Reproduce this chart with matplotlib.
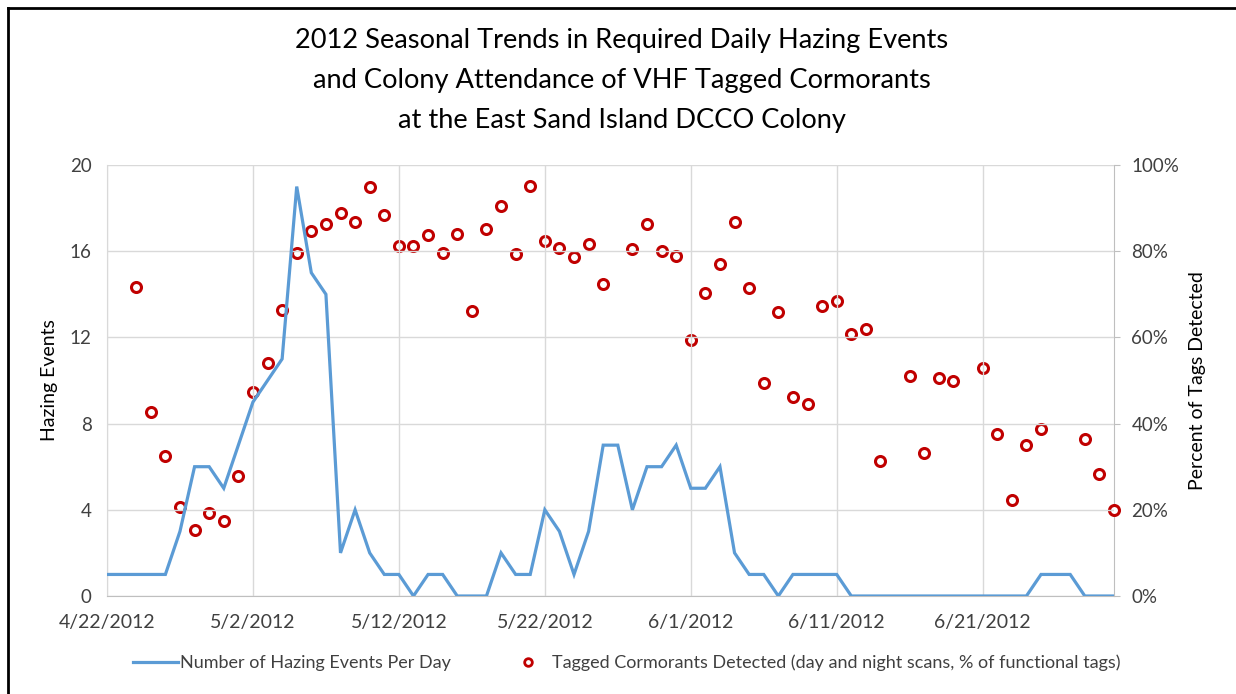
import matplotlib
matplotlib.use("Agg")
import matplotlib.pyplot as plt
from matplotlib.lines import Line2D
import numpy as np
import pandas as pd

plt.rcParams['font.family'] = ['Lato', 'DejaVu Sans']

# Daily series, 4/22/2012 through 6/30/2012
start_date = "2012-04-22"
n_days = 70

hazing_events = [1, 1, 1, 1, 1, 3, 6, 6, 5, 7,
                 9, 10, 11, 19, 15, 14, 2, 4, 2, 1,
                 1, 0, 1, 1, 0, 0, 0, 2, 1, 1,
                 4, 3, 1, 3, 7, 7, 4, 6, 6, 7,
                 5, 5, 6, 2, 1, 1, 0, 1, 1, 1,
                 1, 0, 0, 0, 0, 0, 0, 0, 0, 0,
                 0, 0, 0, 0, 1, 1, 1, 0, 0, 0]

nan = np.nan
tags_detected_pct = [nan, nan, 71.8, 42.8, 32.5, 20.6, 15.2, 19.2, 17.4, 27.8,
                     47.4, 54.1, 66.4, 79.6, 84.8, 86.2, 88.8, 86.8, 94.9, 88.5,
                     81.3, 81.3, 83.8, 79.6, 84.1, 66.1, 85.1, 90.5, 79.4, 95.1,
                     82.4, 80.8, 78.7, 81.6, 72.5, nan, 80.4, 86.2, 80.1, 78.9,
                     59.5, 70.3, 77.0, 86.8, 71.5, 49.4, 65.9, 46.2, 44.5, 67.4,
                     68.5, 60.7, 61.9, 31.4, nan, 51.1, 33.2, 50.6, 49.9, nan,
                     52.8, 37.6, 22.3, 35.1, 38.8, nan, nan, 36.4, 28.3, 20.0]

title_lines = ["2012 Seasonal Trends in Required Daily Hazing Events",
               "and Colony Attendance of VHF Tagged Cormorants",
               "at the East Sand Island DCCO Colony"]
line_label = "Number of Hazing Events Per Day"
scatter_label = "Tagged Cormorants Detected (day and night scans, % of functional tags)"

dates = pd.date_range(start_date, periods=n_days, freq="D")

LINE_BLUE = "#5B9BD5"
DOT_RED = "#C00000"
GRID = "#D9D9D9"
AXIS = "#BFBFBF"
TEXT = "#404040"

W, H = 1236, 694
fig = plt.figure(figsize=(W / 100, H / 100), dpi=100)
ax = fig.add_axes([107 / W, 1 - 596 / H, (1114 - 107) / W, (596 - 165) / H])
ax2 = ax.twinx()

# hazing line on the left axis
ax.plot(dates, hazing_events, color=LINE_BLUE, lw=2.3, solid_joinstyle="miter", zorder=3)
ax.set_ylim(0, 20)
ax.set_yticks(range(0, 21, 4))
ax.set_xlim(dates[0], dates[-1])
tick_dates = pd.date_range(start_date, dates[-1], freq="10D")
ax.set_xticks(tick_dates)
ax.set_xticklabels([f"{d.month}/{d.day}/{d.year}" for d in tick_dates])

# percent detected on the right axis
ax2.plot(dates, tags_detected_pct, linestyle="none", marker="o", ms=7.2,
         mfc="white", mec=DOT_RED, mew=2.2, zorder=4, clip_on=False)
ax2.set_ylim(0, 100)
ax2.set_yticks(range(0, 101, 20))
ax2.set_yticklabels([f"{v}%" for v in range(0, 101, 20)])

ax.set_zorder(ax2.get_zorder() + 1)
ax.patch.set_visible(False)

ax.grid(True, color=GRID, lw=1.0)
ax.set_axisbelow(True)
for a in (ax, ax2):
    for s in a.spines.values():
        s.set_visible(False)
ax.spines["bottom"].set_visible(True)
ax.spines["bottom"].set_color(AXIS)
ax.spines["left"].set_visible(True)
ax.spines["left"].set_color(GRID)
ax2.spines["right"].set_visible(True)
ax2.spines["right"].set_color(AXIS)

ax.tick_params(axis="both", length=0, labelsize=13.5, labelcolor=TEXT)
ax.tick_params(axis="y", pad=11)
ax.tick_params(axis="x", pad=13, labelsize=14)
ax2.tick_params(axis="y", length=4.5, color=AXIS, labelsize=13.5, labelcolor=TEXT, pad=8)

ax.set_ylabel("Hazing Events", fontsize=14, color="black")
ax2.set_ylabel("Percent of Tags Detected", fontsize=14, color="black")
ax.yaxis.label.set_va("center")
ax2.yaxis.label.set_va("center")
ax.yaxis.set_label_coords((50 - 107) / 1007, 0.5)
ax2.yaxis.set_label_coords((1197 - 107) / 1007, 0.5)

# title
for i, t in enumerate(title_lines):
    fig.text(0.503, 1 - (48 + i * 40) / H, t, ha="center", va="baseline",
             fontsize=19.6, color="black")

# legend
handles = [Line2D([0], [0], color=LINE_BLUE, lw=2.3),
           Line2D([0], [0], linestyle="none", marker="o", ms=5.5, mfc="white",
                  mec=DOT_RED, mew=2.0)]
fig.legend(handles, [line_label, scatter_label], loc="center",
           bbox_to_anchor=(627 / W, 1 - 663 / H), ncol=2, frameon=False,
           fontsize=13, handlelength=2.5, handletextpad=0.1, columnspacing=3.0,
           labelcolor=TEXT)

# chart frame (left and top edges)
fig.add_artist(Line2D([8 / W, 8 / W], [0, 1 - 8 / H], color="black",
                      lw=2.0, transform=fig.transFigure))
fig.add_artist(Line2D([8 / W, 1], [1 - 8 / H, 1 - 8 / H], color="black",
                      lw=2.0, transform=fig.transFigure))

fig.savefig("out.png", dpi=100)
